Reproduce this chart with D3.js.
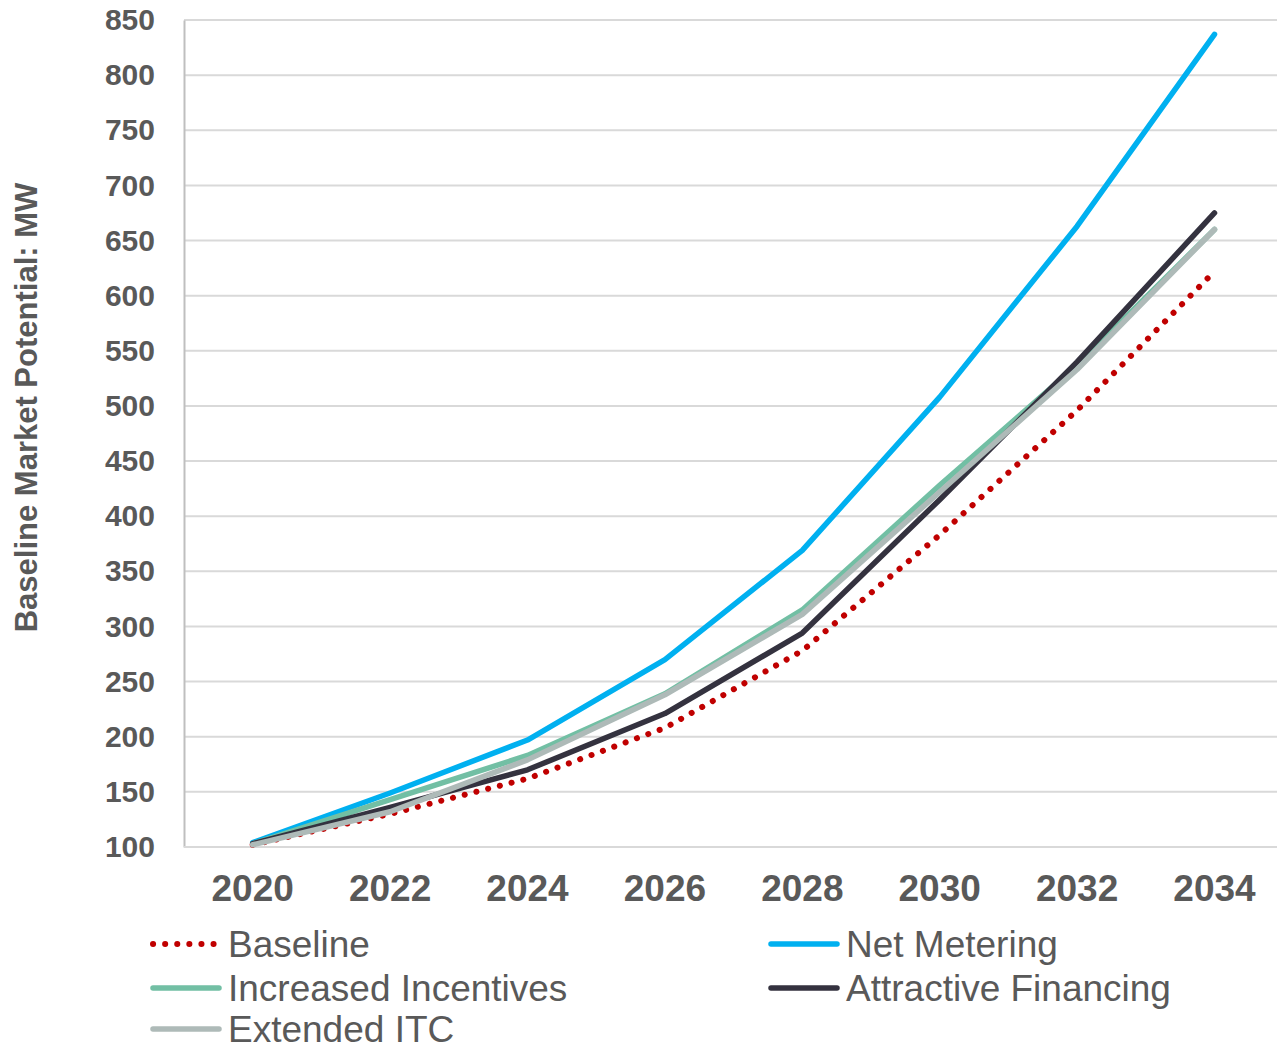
<!DOCTYPE html>
<html>
<head>
<meta charset="utf-8">
<script src="https://cdn.jsdelivr.net/npm/d3@7"></script>
<style>
  html, body { margin: 0; padding: 0; background: #fff; overflow: hidden; }
  svg { display: block; font-family: "Liberation Sans", Arial, sans-serif; }
</style>
</head>
<body>
<svg id="chart" width="1277" height="1051"></svg>
<script>
// Years on the x axis
const years = ["2020", "2022", "2024", "2026", "2028", "2030", "2032", "2034"];
// Y axis ticks (MW)
const yTicks = [100, 150, 200, 250, 300, 350, 400, 450, 500, 550, 600, 650, 700, 750, 800, 850];

// Scenario series (MW)
const baseline            = [102, 130, 162, 208, 278, 383, 496, 622];
const netMetering         = [104, 149, 197, 270, 369, 508, 663, 837];
const increasedIncentives = [103, 143, 183, 239, 315, 428, 537, 660];
const attractiveFinancing = [103, 136, 170, 221, 294, 415, 540, 675];
const extendedITC         = [102, 132, 179, 238, 311, 422, 533, 660];

const seriesNames = ["Baseline", "Net Metering", "Increased Incentives", "Attractive Financing", "Extended ITC"];

const series = [
  { name: seriesNames[0], values: baseline,            color: "#C00000", dotted: true },
  { name: seriesNames[1], values: netMetering,         color: "#00B0F0" },
  { name: seriesNames[2], values: increasedIncentives, color: "#72BFA4" },
  { name: seriesNames[3], values: attractiveFinancing, color: "#34323F" },
  { name: seriesNames[4], values: extendedITC,         color: "#AEBAB8" }
];

const svg = d3.select("#chart");
const plot = { left: 184, right: 1277, top: 20, bottom: 847 };
const textColor = "#595959";

// Category bands run slightly past the visible right edge of the plot
const x = d3.scaleBand().domain(years).range([plot.left, plot.left + 8 * 137.4]);
const y = d3.scaleLinear().domain([100, 850]).range([plot.bottom, plot.top]);
const xc = d => x(d) + x.bandwidth() / 2;

// Horizontal gridlines
svg.append("g")
  .selectAll("line")
  .data(yTicks.filter(t => t > 100))
  .join("line")
  .attr("x1", plot.left).attr("x2", plot.right)
  .attr("y1", d => y(d)).attr("y2", d => y(d))
  .attr("stroke", "#D9D9D9").attr("stroke-width", 2);

// Y axis
const yAxis = svg.append("g")
  .attr("transform", `translate(${plot.left},0)`)
  .call(d3.axisLeft(y).tickValues(yTicks).tickSize(0).tickPadding(29));
yAxis.select(".domain").attr("stroke", "#BFBFBF").attr("stroke-width", 2);
yAxis.selectAll("text")
  .attr("fill", textColor).attr("font-size", 30).attr("font-weight", "bold")
  .attr("font-family", "Liberation Sans, Arial, sans-serif");

// X axis
const xAxis = svg.append("g")
  .attr("transform", `translate(0,${plot.bottom})`)
  .call(d3.axisBottom(x).tickSize(0).tickPadding(28));
xAxis.select(".domain")
  .attr("d", `M${plot.left},0H${plot.right}`)
  .attr("stroke", "#D9D9D9").attr("stroke-width", 2);
xAxis.selectAll("text")
  .attr("fill", textColor).attr("font-size", 37).attr("font-weight", "bold")
  .attr("font-family", "Liberation Sans, Arial, sans-serif");

// Y axis title
svg.append("text")
  .attr("transform", `translate(37,${(plot.top + plot.bottom) / 2 - 26}) rotate(-90)`)
  .attr("text-anchor", "middle")
  .attr("fill", textColor).attr("font-size", 31).attr("font-weight", "bold")
  .text("Baseline Market Potential: MW");

// Lines
const line = d3.line().x((d, i) => xc(years[i])).y(d => y(d));
svg.append("g")
  .selectAll("path")
  .data(series)
  .join("path")
  .attr("d", s => line(s.values))
  .attr("fill", "none")
  .attr("stroke", s => s.color)
  .attr("stroke-width", s => s.dotted ? 6 : 5.5)
  .attr("stroke-linecap", "round")
  .attr("stroke-linejoin", "round")
  .attr("stroke-dasharray", s => s.dotted ? "0.1 12" : null);

// Legend (two columns, filled row by row)
const legendCols = [150, 768];
const legendRows = [944, 988, 1029];
const legend = svg.append("g");
series.forEach((s, i) => {
  const lx = legendCols[i % 2];
  const ly = legendRows[Math.floor(i / 2)];
  legend.append("line")
    .attr("x1", lx + 3).attr("x2", lx + 69)
    .attr("y1", ly).attr("y2", ly)
    .attr("stroke", s.color)
    .attr("stroke-width", s.dotted ? 6 : 5.5)
    .attr("stroke-linecap", "round")
    .attr("stroke-dasharray", s.dotted ? "0.1 12" : null);
  legend.append("text")
    .attr("x", lx + 78).attr("y", ly)
    .attr("dy", "0.35em")
    .attr("fill", textColor).attr("font-size", 37)
    .text(s.name);
});
</script>
</body>
</html>
